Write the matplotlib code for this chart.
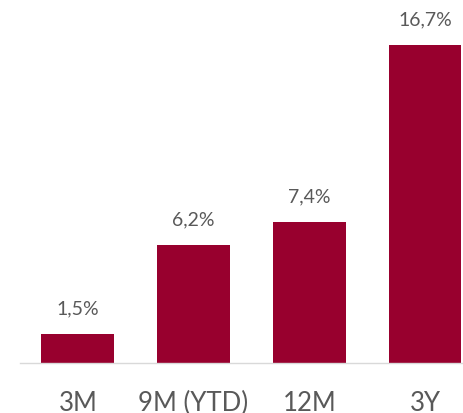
import matplotlib.pyplot as plt

categories = ['3M', '9M (YTD)', '12M', '3Y']
values = [1.5, 6.2, 7.4, 16.7]
labels = ['1,5%', '6,2%', '7,4%', '16,7%']

plt.rcParams['font.family'] = ['Lato', 'DejaVu Sans']

fig = plt.figure(figsize=(4.63, 4.13), dpi=100)
ax = fig.add_axes([20 / 463, 50 / 413, 443 / 463, 363 / 413])

x = range(len(categories))
bars = ax.bar(x, values, width=0.63, color='#98002E')

for b, lab in zip(bars, labels):
    ax.annotate(lab, (b.get_x() + b.get_width() / 2, b.get_height()),
                xytext=(0, 12), textcoords='offset points',
                ha='center', va='bottom', fontsize=14, color='#595959')

ax.set_xlim(-0.5, -0.5 + 443 / 115.7)
ax.set_ylim(0, 19.07)
ax.set_xticks(list(x))
ax.set_xticklabels(categories, fontsize=18.5, color='#595959')
ax.tick_params(axis='x', length=0, pad=20)
ax.set_yticks([])
for s in ['top', 'right', 'left']:
    ax.spines[s].set_visible(False)
ax.spines['bottom'].set_color('#D9D9D9')
ax.spines['bottom'].set_linewidth(1)

fig.savefig('out.png', dpi=100)
